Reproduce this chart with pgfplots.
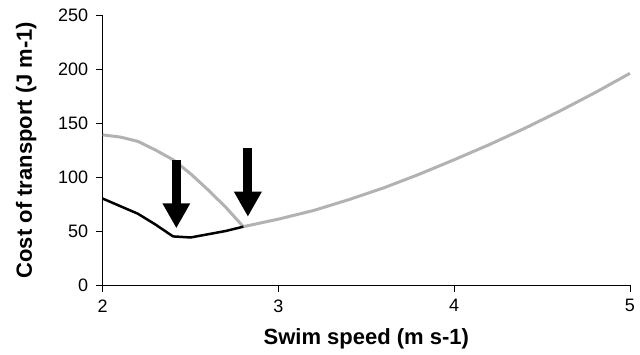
\documentclass[border=0pt]{standalone}
\usepackage{fontspec}
\setmainfont{Liberation Sans}
\usepackage{pgfplots}
\pgfplotsset{compat=1.18}
\usetikzlibrary{arrows.meta}
\definecolor{lgray}{RGB}{178,178,178}
\begin{document}
\begin{tikzpicture}
\path (-102.7pt,-70pt) rectangle (537.3pt,285pt);
\begin{axis}[
  scale only axis,
  width=527.3pt, height=270pt,
  xmin=2, xmax=5, ymin=0, ymax=250,
  xtick={2,3,4,5}, ytick={0,50,100,150,200,250},
  axis x line*=bottom, axis y line*=left,
  axis line style={black, line width=0.8pt},
  tick style={black, line width=0.8pt},
  tick align=outside, major tick length=7pt,
  /pgf/number format/assume math mode=true,
  ticklabel style={font=\fontsize{18}{21}\selectfont},
  xticklabel style={yshift=-4pt},
  yticklabel style={xshift=-4pt},
  xlabel={Swim speed (m s-1)},
  ylabel={Cost of transport (J m-1)},
  label style={font=\fontsize{22}{26}\selectfont\bfseries},
  xlabel style={at={(axis description cs:0.5,-0.2222)}, anchor=base},
  ylabel style={at={(axis description cs:-0.1341,0.5)}, anchor=base, rotate=0},
  clip=false,
]
\addplot[lgray, line width=3pt, line join=round] coordinates {
(2.0,139) (2.1,137) (2.2,133) (2.3,125) (2.4,116) (2.5,103) (2.6,88) (2.7,72) (2.8,54)
(3.0,61) (3.2,69) (3.4,79) (3.6,90) (3.8,102.5) (4.0,116) (4.2,130) (4.4,145) (4.6,161) (4.8,178) (5.0,196)
};
\addplot[black, line width=2.5pt, line join=round] coordinates {
(2.0,80) (2.1,73) (2.2,66) (2.3,56) (2.4,45) (2.5,44) (2.6,47) (2.7,50) (2.8,54)
};
\draw[line width=9pt, -{Triangle[width=26pt,length=25pt]}] (axis cs:2.419,115.7) -- (axis cs:2.419,52.5);
\draw[line width=9pt, -{Triangle[width=26pt,length=25pt]}] (axis cs:2.826,126.5) -- (axis cs:2.826,63.2);
\end{axis}
\end{tikzpicture}
\end{document}
